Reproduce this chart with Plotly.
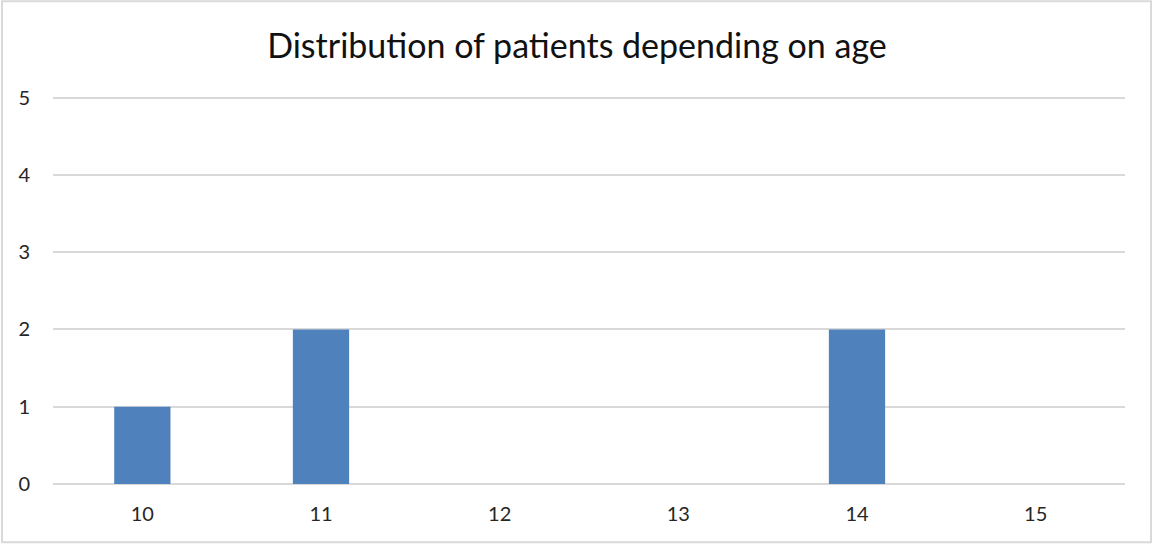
import plotly.graph_objects as go

# Data
ages = ["10", "11", "12", "13", "14", "15"]
patients = [1, 2, 0, 0, 2, 0]
y_ticks = [0, 1, 2, 3, 4, 5]

fig = go.Figure(go.Bar(
    x=ages, y=patients,
    marker_color="#4f81bd",
    marker_line_width=0,
))

fig.update_layout(
    width=1154, height=544,
    paper_bgcolor="white", plot_bgcolor="white",
    font=dict(family="Lato, Open Sans, sans-serif", size=20, color="#262626"),
    title=dict(text="Distribution of patients depending on age",
               x=0.5, xanchor="center", y=0.915, yanchor="middle",
               font=dict(size=34, color="#111111")),
    margin=dict(l=53, r=29, t=96, b=60),
    bargap=0.685,
    showlegend=False,
)
fig.update_xaxes(showgrid=False, ticks="", showline=False, ticklabelstandoff=16)
fig.update_yaxes(range=[0, 5.02], tickvals=y_ticks, gridcolor="#d9d9d9", gridwidth=1.5,
                 zeroline=True, zerolinecolor="#d9d9d9", zerolinewidth=1.5,
                 ticklabelstandoff=22)
# light grey frame round the whole chart
fig.add_shape(type="rect", xref="paper", yref="paper",
              x0=-0.0476, x1=1.0243, y0=-0.150, y1=1.244,
              line=dict(color="#d9d9d9", width=2), layer="below")

# drop the default 8px body margin so the figure sits at the window origin
fig.write_html("out.html", config={"displayModeBar": False},
               post_script="document.body.style.margin='0';")
